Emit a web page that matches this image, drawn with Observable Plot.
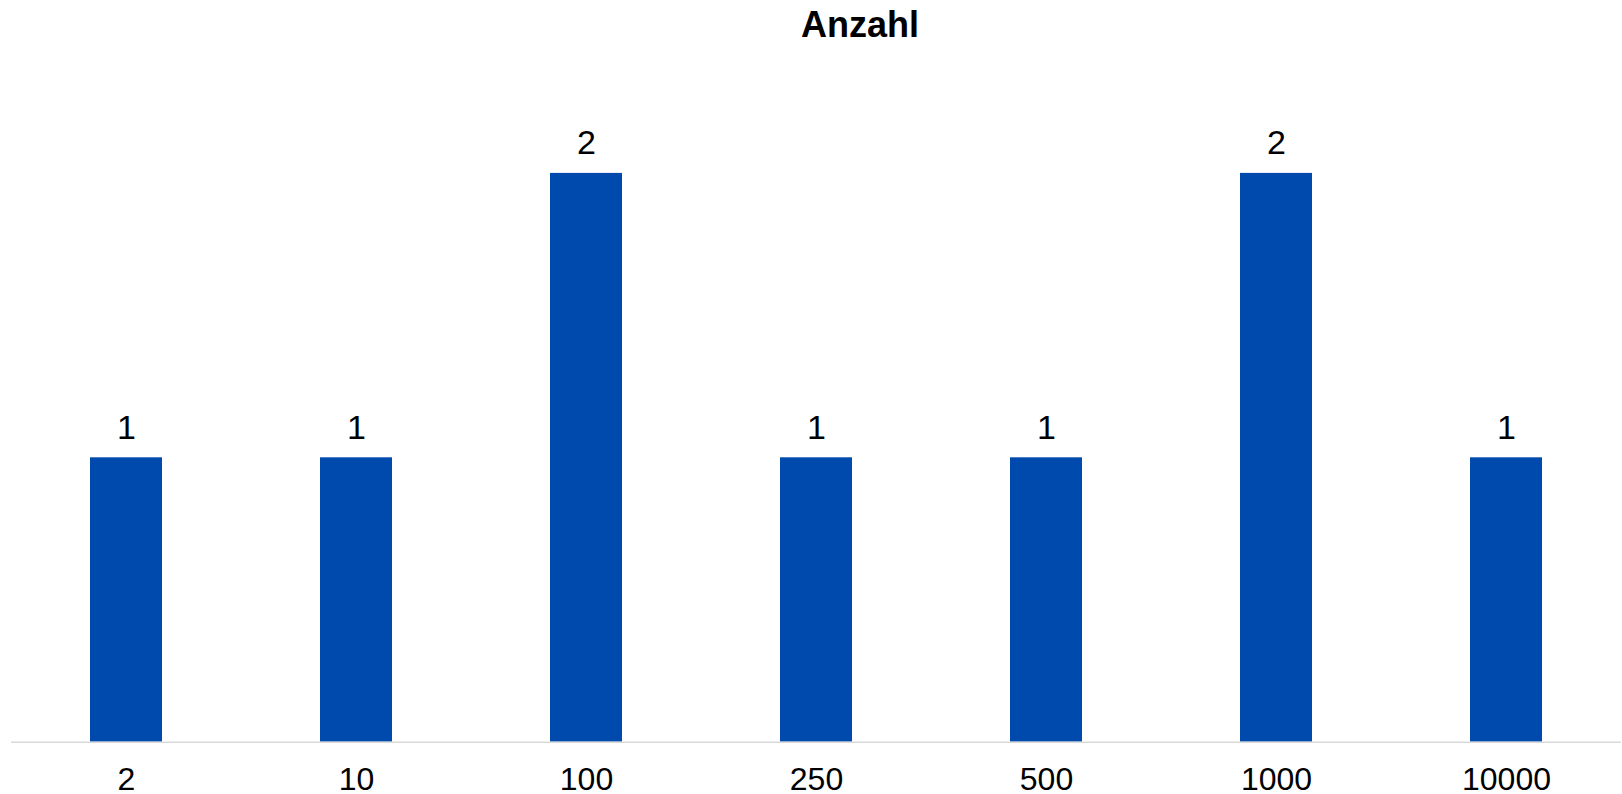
<!DOCTYPE html>
<html>
<head>
<meta charset="utf-8">
<script src="https://cdn.jsdelivr.net/npm/d3@7"></script>
<script src="https://cdn.jsdelivr.net/npm/@observablehq/plot@0.6"></script>
<style>
  html, body { margin: 0; padding: 0; background: #fff; }
  #wrap { width: 1622px; height: 794px; position: relative; overflow: hidden; font-family: "Liberation Sans", Arial, sans-serif; }
  #title { height: 50px; position: relative; }
  #title span { position: absolute; left: 860px; top: 7px; transform: translateX(-50%); font-size: 36px; line-height: 36px; font-weight: bold; color: #000; white-space: nowrap; }
</style>
</head>
<body>
<div id="wrap">
  <div id="title"><span>Anzahl</span></div>
  <div id="chart"></div>
</div>
<script>
const title = "Anzahl";
const categories = ["2", "10", "100", "250", "500", "1000", "10000"];
const values = [1, 1, 2, 1, 1, 2, 1];

const data = categories.map((c, i) => ({ category: c, value: values[i] }));

const chart = Plot.plot({
  width: 1622,
  height: 744,
  marginLeft: 11,
  marginRight: 1,
  marginTop: 122.9,
  marginBottom: 52.3,
  style: { fontFamily: '"Liberation Sans", Arial, sans-serif', background: "#fff" },
  x: { domain: categories, paddingInner: 0.688, paddingOuter: 0.344, label: null },
  y: { domain: [0, 2], axis: null },
  marks: [
    Plot.barY(data, { x: "category", y: "value", fill: "#004AAD" }),
    Plot.ruleY([0], { stroke: "#d9d9d9", strokeWidth: 1.5 }),
    Plot.text(data, { x: "category", y: "value", text: d => String(d.value), lineAnchor: "bottom", dy: -19, fontSize: 34, fill: "#000" }),
    Plot.axisX({ tickSize: 0, tickPadding: 25, fontSize: 32, label: null, color: "#000" })
  ]
});
document.getElementById("chart").appendChild(chart);
</script>
</body>
</html>
